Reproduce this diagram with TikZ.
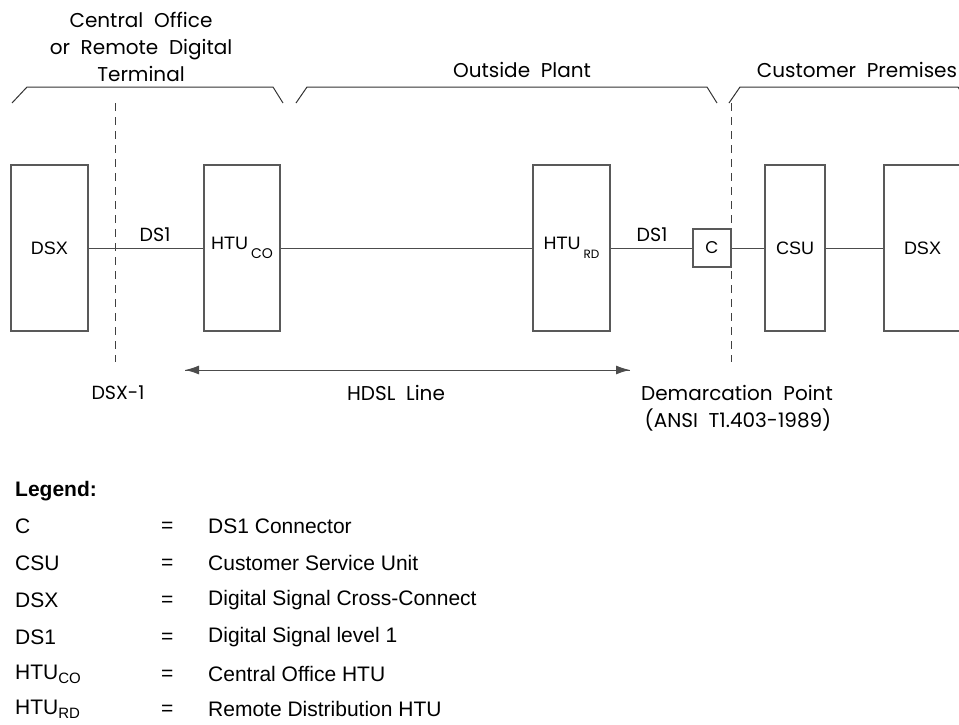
\documentclass[tikz,border=0pt]{standalone}
\usepackage{fontspec}
\setmainfont{Liberation Sans}
\newfontfamily\rnd{Poppins}
\usetikzlibrary{arrows.meta}
\begin{document}
\begin{tikzpicture}[x=1pt,y=-1pt,
  ln/.style={draw=black!70, line width=1pt},
  unitbox/.style={draw=black!65, line width=1.1pt, minimum height=166pt, inner sep=0pt, font=\fontsize{18}{20}\selectfont},
  conbox/.style={draw=black!65, line width=1.1pt, minimum width=38pt, minimum height=38pt, inner sep=0pt, font=\rnd\fontsize{17}{20}\selectfont},
  rlabel/.style={font=\rnd\fontsize{20}{24}\selectfont, inner sep=0pt},
  brk/.style={draw=black!80, line width=1pt},
  dsh/.style={draw=black!75, line width=1pt, dash pattern=on 8pt off 6pt},
  leg/.style={font=\fontsize{21}{24}\selectfont, anchor=west, inner sep=0pt},
  tipA/.style={-{Latex[length=14pt,width=9pt]}}
]
\useasboundingbox (0,0) rectangle (959,724);

% header texts
\node[rlabel, align=center] (hdrA) at (141,47) {Central\ \ Office\\[3pt]or\ \ Remote\ \ Digital\\[3pt]Terminal};
\node[rlabel] (hdrB) at (522,70) {Outside\ \ Plant};
\node[rlabel] (hdrC) at (857,70) {Customer\ \ Premises};

% brackets
\draw[brk] (12,103) -- (27,87) -- (273,87) -- (283,103);
\draw[brk] (296,103) -- (307,87) -- (707,87) -- (717,103);
\draw[brk] (729,103) -- (740,87) -- (958,87) -- (968,103);

% dashed boundaries
\coordinate (dAt) at (115,103);
\coordinate (dAb) at (115,362);
\coordinate (dBt) at (731,103);
\coordinate (dBb) at (731,362);
\draw[dsh] (dAt) -- (dAb);
\draw[dsh] (dBt) -- (dBb);

% boxes
\node[unitbox, minimum width=77pt] (dsxA) at (49.5,248) {DSX};
\node[unitbox, minimum width=76pt] (htuco) at (242,248) {HTU\,{\rnd\fontsize{14}{14}\selectfont\raisebox{-9pt}{CO}}};
\node[unitbox, minimum width=77pt] (hturd) at (571.5,248) {HTU\,{\rnd\fontsize{12}{12}\selectfont\raisebox{-9pt}{RD}}};
\node[conbox] (cbox) at (712,248) {C};
\node[unitbox, minimum width=60pt] (csu) at (795,248) {CSU};
\node[unitbox, minimum width=77pt] (dsxB) at (922.5,248) {DSX};

% connectors
\draw[ln] (dsxA) -- (htuco);
\draw[ln] (htuco) -- (hturd);
\draw[ln] (hturd) -- (cbox);
\draw[ln] (cbox) -- (csu);
\draw[ln] (csu) -- (dsxB);

% line labels
\node[rlabel, font=\rnd\fontsize{19}{22}\selectfont] (dsA) at (155,235) {DS1};
\node[rlabel, font=\rnd\fontsize{19}{22}\selectfont] (dsB) at (652,235) {DS1};

% HDSL arrow
\coordinate (arL) at (185,370);
\coordinate (arR) at (630,370);
\draw[ln, tipA] (arL) -- (arR);
\draw[ln, tipA] (arR) -- (arL);

% bottom labels
\node[rlabel, font=\rnd\fontsize{19}{24}\selectfont] (dsx1) at (118,393) {DSX-1};
\node[rlabel] (hdsl) at (396,393) {HDSL\ \ Line};
\node[rlabel] (demA) at (737,393) {Demarcation\ \ Point};
\node[rlabel] (demB) at (738,420) {(ANSI\ \ T1.403-1989)};

% legend
\node[leg, font=\bfseries\fontsize{21}{24}\selectfont] (legT) at (15,491) {Legend:};
\node[leg] (lnA) at (15,526) {C};
\node[leg] (leA) at (161,527) {=};
\node[leg] (ldA) at (208,526) {DS1 Connector};
\node[leg] (lnB) at (15,563) {CSU};
\node[leg] (leB) at (161,564) {=};
\node[leg] (ldB) at (208,563) {Customer Service Unit};
\node[leg] (lnC) at (15,600) {DSX};
\node[leg] (leC) at (161,601) {=};
\node[leg] (ldC) at (208,600) {Digital Signal Cross-Connect};
\node[leg] (lnD) at (15,637) {DS1};
\node[leg] (leD) at (161,638) {=};
\node[leg] (ldD) at (208,637) {Digital Signal level 1};
\node[leg] (lnE) at (15,674) {HTU\raisebox{-4pt}{\fontsize{15}{15}\selectfont CO}};
\node[leg] (leE) at (161,675) {=};
\node[leg] (ldE) at (208,674) {Central Office HTU};
\node[leg] (lnF) at (15,709) {HTU\raisebox{-4pt}{\fontsize{15}{15}\selectfont RD}};
\node[leg] (leF) at (161,710) {=};
\node[leg] (ldF) at (208,709) {Remote Distribution HTU};
\end{tikzpicture}
\end{document}
